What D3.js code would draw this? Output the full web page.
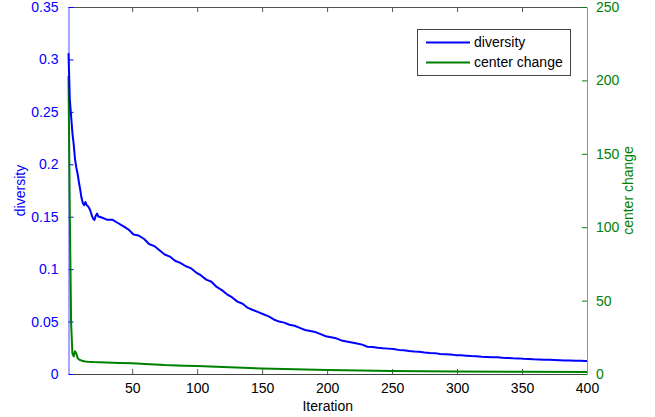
<!DOCTYPE html>
<html>
<head>
<meta charset="utf-8">
<script src="https://cdn.jsdelivr.net/npm/d3@7"></script>
<style>
  body { margin: 0; background: #fff; }
  svg { display: block; font-family: "Liberation Sans", Arial, sans-serif; }
</style>
</head>
<body>
<svg id="chart" width="655" height="417"></svg>
<script>
// tick values
const iterTicks = [50, 100, 150, 200, 250, 300, 350, 400];
const divTicks = [0, 0.05, 0.1, 0.15, 0.2, 0.25, 0.3, 0.35];
const changeTicks = [0, 50, 100, 150, 200, 250];

// diversity series
const divIter = [1, 2, 3, 4, 5, 6, 7, 8, 9, 10, 11, 12, 13, 14, 15, 16, 17, 18, 19, 20, 21, 22, 23, 24, 25,
  27, 31, 35, 39, 43, 47, 51, 55, 59, 63, 67, 71, 75, 79, 83, 87, 91, 95, 99, 103, 107, 111, 115, 119,
  123, 127, 131, 135, 139, 143, 147, 151, 155, 159, 163, 167, 171, 175, 179, 183, 187, 191, 195, 199,
  203, 207, 211, 215, 219, 223, 227, 231, 235, 239, 243, 247, 251, 255, 259, 263, 267, 271, 275, 279,
  283, 287, 291, 295, 299, 303, 307, 311, 315, 319, 323, 327, 331, 335, 339, 343, 347, 351, 355, 359,
  363, 367, 371, 375, 379, 383, 387, 391, 395, 399, 400];
const divVals = [0.306, 0.262, 0.246, 0.230, 0.219, 0.205, 0.197, 0.191, 0.183, 0.176, 0.168, 0.163, 0.161, 0.164, 0.161, 0.160, 0.158, 0.155, 0.151, 0.148, 0.147, 0.151, 0.153, 0.150, 0.150,
  0.149, 0.147, 0.147, 0.144, 0.141, 0.138, 0.133, 0.132, 0.129, 0.124, 0.122, 0.118, 0.114, 0.112, 0.108, 0.106, 0.103, 0.101, 0.097, 0.094, 0.090, 0.088, 0.083, 0.080,
  0.076, 0.073, 0.069, 0.067, 0.063, 0.061, 0.059, 0.057, 0.055, 0.052, 0.050, 0.049, 0.047, 0.046, 0.044, 0.042, 0.041, 0.040, 0.038, 0.036,
  0.035, 0.034, 0.032, 0.031, 0.030, 0.029, 0.028, 0.026, 0.0258, 0.025, 0.0245, 0.0242, 0.0238, 0.023, 0.0227, 0.022, 0.0215, 0.0212, 0.0205, 0.0200,
  0.0199, 0.0191, 0.0189, 0.0186, 0.0180, 0.0179, 0.0175, 0.0171, 0.0169, 0.0165, 0.0163, 0.0160, 0.0159, 0.0155, 0.0153, 0.0150, 0.0149, 0.0145, 0.0144, 0.0140,
  0.0139, 0.0136, 0.0135, 0.0133, 0.0131, 0.0128, 0.0128, 0.0126, 0.0127, 0.0125, 0.0125];

// center change series
const changeIter = [1, 2, 3, 4, 5, 6, 7, 8, 9, 10, 12, 14, 16, 20, 25, 30, 40, 50, 60, 75, 90, 100, 120, 150, 175, 200, 250, 300, 350, 400];
const changeVals = [203, 110, 35, 14, 12, 15.5, 14, 11, 10, 9.5, 8.8, 8.5, 8.3, 8.1, 8.0, 7.8, 7.5, 7.3, 6.8, 6.1, 5.7, 5.4, 4.7, 3.8, 3.2, 2.7, 2.0, 1.7, 1.5, 1.4];

const seriesNames = ["diversity", "center change"];
const blue = "#0000ff";
const green = "#008000";

const svg = d3.select("#chart");
const plotL = 68.5, plotR = 587, plotT = 7, plotB = 374;

svg.append("rect").attr("width", 655).attr("height", 417).attr("fill", "#fff");

const x = d3.scaleLinear().domain([1, 400]).range([plotL, plotR]);
const yL = d3.scaleLinear().domain([0, 0.35]).range([plotB, plotT]);
const yR = d3.scaleLinear().domain([0, 250]).range([plotB, plotT]);

const fmt = d => d === 0 ? "0" : String(+d.toFixed(2));

// top border
svg.append("line")
  .attr("x1", plotL).attr("x2", plotR).attr("y1", plotT + 0.5).attr("y2", plotT + 0.5)
  .attr("stroke", "#555");

// bottom x axis (ticks inward)
const xAxis = svg.append("g")
  .attr("transform", `translate(0,${plotB})`)
  .call(d3.axisBottom(x).tickValues(iterTicks).tickSizeInner(-5).tickSizeOuter(0).tickPadding(9));
xAxis.select(".domain").attr("stroke", "#444");
xAxis.selectAll(".tick line").attr("stroke", "#555");
xAxis.selectAll("text").attr("fill", "#000").attr("font-size", 14);

// top ticks
svg.append("g")
  .attr("transform", `translate(0,${plotT})`)
  .call(d3.axisTop(x).tickValues(iterTicks.slice(0, -1)).tickSizeInner(-5).tickSizeOuter(0).tickFormat(""))
  .call(g => g.select(".domain").remove())
  .selectAll(".tick line").attr("stroke", "#555");

// left axis
const leftAxis = svg.append("g")
  .attr("transform", `translate(${plotL},0)`)
  .call(d3.axisLeft(yL).tickValues(divTicks).tickFormat(fmt).tickSizeInner(-5).tickSizeOuter(0).tickPadding(10));
leftAxis.select(".domain").attr("stroke", "#4d4dff");
leftAxis.selectAll(".tick line").attr("stroke", blue);
leftAxis.selectAll("text").attr("fill", blue).attr("font-size", 14);

// right axis
const rightAxis = svg.append("g")
  .attr("transform", `translate(${plotR},0)`)
  .call(d3.axisRight(yR).tickValues(changeTicks).tickSizeInner(-5).tickSizeOuter(0).tickPadding(9));
rightAxis.select(".domain").attr("stroke", "#5cb85c");
rightAxis.selectAll(".tick line").attr("stroke", green);
rightAxis.selectAll("text").attr("fill", green).attr("font-size", 14);

// axis titles
svg.append("text")
  .attr("transform", `translate(25,${(plotT + plotB) / 2}) rotate(-90)`)
  .attr("text-anchor", "middle").attr("fill", blue).attr("font-size", 14)
  .text("diversity");
svg.append("text")
  .attr("transform", `translate(633,${(plotT + plotB) / 2}) rotate(-90)`)
  .attr("text-anchor", "middle").attr("fill", green).attr("font-size", 14)
  .text("center change");
svg.append("text")
  .attr("x", (plotL + plotR) / 2).attr("y", 411)
  .attr("text-anchor", "middle").attr("fill", "#000").attr("font-size", 14)
  .text("Iteration");

// lines
const changeLine = d3.line().x((d, i) => x(changeIter[i])).y(d => yR(d));
const divLine = d3.line().x((d, i) => x(divIter[i])).y(d => yL(d));

svg.append("path").datum(changeVals)
  .attr("fill", "none").attr("stroke", green).attr("stroke-width", 2)
  .attr("stroke-linejoin", "round").attr("d", changeLine);
svg.append("path").datum(divVals)
  .attr("fill", "none").attr("stroke", blue).attr("stroke-width", 2)
  .attr("stroke-linejoin", "round").attr("d", divLine);

// legend
const legend = svg.append("g").attr("transform", "translate(417,29)");
legend.append("rect")
  .attr("x", 0.5).attr("y", 0.5).attr("width", 153).attr("height", 46)
  .attr("fill", "#fff").attr("stroke", "#444");
[blue, green].forEach((c, i) => {
  legend.append("line")
    .attr("x1", 9).attr("x2", 53).attr("y1", 13.5 + i * 20).attr("y2", 13.5 + i * 20)
    .attr("stroke", c).attr("stroke-width", 2);
  legend.append("text")
    .attr("x", 57).attr("y", 18 + i * 20)
    .attr("font-size", 14).attr("fill", "#000")
    .text(seriesNames[i]);
});
</script>
</body>
</html>
